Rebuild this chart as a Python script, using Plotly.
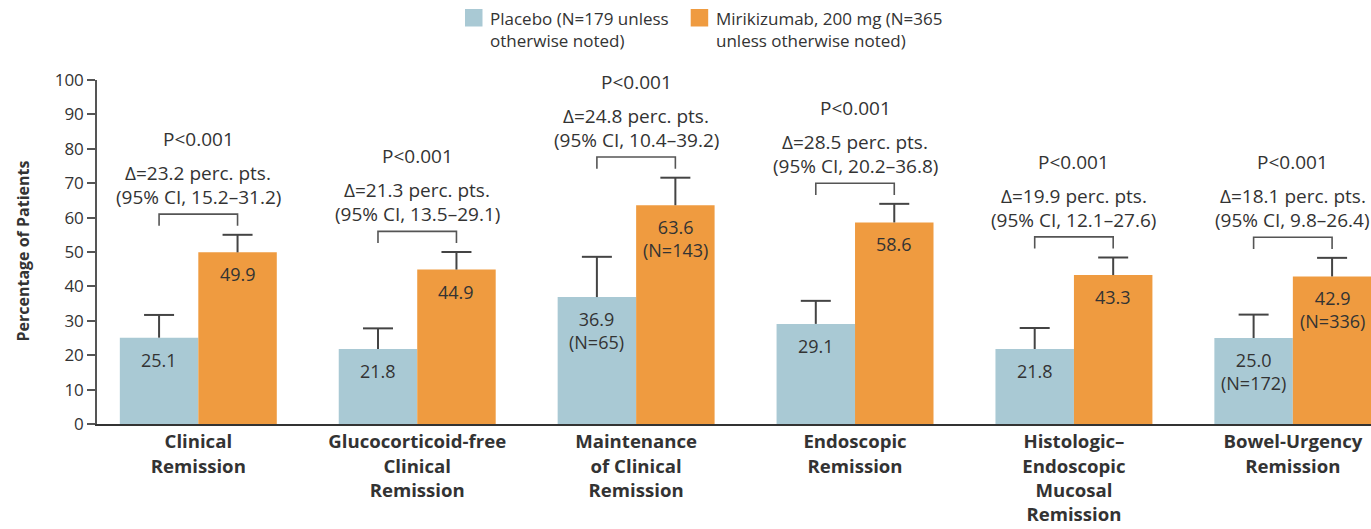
import plotly.graph_objects as go

# ---- data -------------------------------------------------------------
categories = [
    "Clinical<br>Remission",
    "Glucocorticoid-free<br>Clinical<br>Remission",
    "Maintenance<br>of Clinical<br>Remission",
    "Endoscopic<br>Remission",
    "Histologic–<br>Endoscopic<br>Mucosal<br>Remission",
    "Bowel-Urgency<br>Remission",
]
placebo = [25.1, 21.8, 36.9, 29.1, 21.8, 25.0]
mirikizumab = [49.9, 44.9, 63.6, 58.6, 43.3, 42.9]
placebo_upper = [31.7, 27.8, 48.6, 35.8, 27.9, 31.8]
mirikizumab_upper = [55.0, 50.0, 71.6, 64.0, 48.4, 48.3]
placebo_n = [None, None, 65, None, None, 172]
mirikizumab_n = [None, None, 143, None, None, 336]
delta = [23.2, 21.3, 24.8, 28.5, 19.9, 18.1]
ci_low = [15.2, 13.5, 10.4, 20.2, 12.1, 9.8]
ci_high = [31.2, 29.1, 39.2, 36.8, 27.6, 26.4]
p_text = ["P<0.001"] * 6
y_ticks = list(range(0, 101, 10))

# ---- style ------------------------------------------------------------
FONT = "Open Sans"
TXT = "#333333"
C_PLACEBO = "#a9c9d4"
C_MIRI = "#ef9b40"
LINE = "#444444"

PL, PT, PW, PH = 97, 80, 1274, 344          # plot area in px
X_RANGE = [-0.4628, 5.357]
BARGAP = 0.283
bar_w = (1 - BARGAP) / 2
off = bar_w / 2
px_per_x = PW / (X_RANGE[1] - X_RANGE[0])
cap_hw = 15 / px_per_x
bracket_gap = 6.0      # bracket sits above the taller whisker
bracket_leg = 3.4


def xp(px):
    return (px - PL) / PW


def yp(py):
    return (PT + PH - py) / PH


xs = list(range(len(categories)))
fig = go.Figure()

fig.add_trace(go.Bar(x=xs, y=placebo, marker_color=C_PLACEBO, marker_line_width=0,
                     name="Placebo", hoverinfo="y"))
fig.add_trace(go.Bar(x=xs, y=mirikizumab, marker_color=C_MIRI, marker_line_width=0,
                     name="Mirikizumab, 200 mg", hoverinfo="y"))

# upper whiskers with caps
wx, wy = [], []
for i in xs:
    for cx, v, up in ((i - off, placebo[i], placebo_upper[i]),
                      (i + off, mirikizumab[i], mirikizumab_upper[i])):
        wx += [cx, cx, None, cx - cap_hw, cx + cap_hw, None]
        wy += [v, up, None, up, up, None]
fig.add_trace(go.Scatter(x=wx, y=wy, mode="lines", line=dict(color=LINE, width=2),
                         hoverinfo="skip", showlegend=False))

# comparison brackets
bx, by = [], []
brackets = []
for i in xs:
    b = max(placebo_upper[i], mirikizumab_upper[i]) + bracket_gap
    brackets.append(b)
    bx += [i - off, i - off, i + off, i + off, None]
    by += [b - bracket_leg, b, b, b - bracket_leg, None]
fig.add_trace(go.Scatter(x=bx, y=by, mode="lines", line=dict(color="#555555", width=1.6),
                         hoverinfo="skip", showlegend=False))

ann = []
for i in xs:
    b = brackets[i]
    for txt, shift in ((p_text[i], 75),
                       (f"Δ={delta[i]:.1f} perc. pts.", 41),
                       (f"(95% CI, {ci_low[i]:.1f}–{ci_high[i]:.1f})", 17)):
        ann.append(dict(x=i, y=b, xref="x", yref="y", text=txt, showarrow=False,
                        yanchor="middle", yshift=shift,
                        font=dict(family=FONT, size=19, color=TXT)))
    # value labels inside the bars
    for cx, v, n in ((i - off, placebo[i], placebo_n[i]),
                     (i + off, mirikizumab[i], mirikizumab_n[i])):
        lab = f"{v:.1f}" + (f"<br>(N={n})" if n else "")
        ann.append(dict(x=cx, y=v, xref="x", yref="y", text=lab, showarrow=False,
                        yanchor="top", yshift=-8,
                        font=dict(family=FONT, size=18, color=TXT)))

# y-axis title
ann.append(dict(x=xp(22), y=yp(251.5), xref="paper", yref="paper",
                text="<b>Percentage of Patients</b>", textangle=-90, showarrow=False,
                xanchor="center", yanchor="middle",
                font=dict(family=FONT, size=16, color=TXT)))

# legend
shapes = []
legend_items = [
    (C_PLACEBO, 465, "Placebo (N=179 unless<br>otherwise noted)"),
    (C_MIRI, 690.7, "Mirikizumab, 200 mg (N=365<br>unless otherwise noted)"),
]
for col, x0, label in legend_items:
    shapes.append(dict(type="rect", xref="paper", yref="paper",
                       x0=xp(x0), x1=xp(x0 + 17.5), y0=yp(26.5), y1=yp(9),
                       fillcolor=col, line_width=0))
    ann.append(dict(x=xp(x0 + 23), y=yp(29.2), xref="paper", yref="paper",
                    text=label, showarrow=False, xanchor="left", yanchor="middle",
                    align="left", font=dict(family=FONT, size=17, color=TXT)))

tick_text = ["<br>".join(f"<b>{part}</b>" for part in c.split("<br>")) for c in categories]

fig.update_layout(
    width=1371, height=529,
    margin=dict(l=PL, r=1371 - PL - PW, t=PT, b=529 - PT - PH),
    paper_bgcolor="white", plot_bgcolor="white",
    barmode="group", bargap=BARGAP, bargroupgap=0,
    showlegend=False,
    annotations=ann, shapes=shapes,
    font=dict(family=FONT, color=TXT),
    xaxis=dict(range=X_RANGE, tickmode="array", tickvals=xs, ticktext=tick_text,
               tickfont=dict(family=FONT, size=18.6, color=TXT),
               showline=True, linecolor="#333333", linewidth=2, ticks="",
               showgrid=False, zeroline=False, fixedrange=True),
    yaxis=dict(range=[0, 100], tickmode="array", tickvals=y_ticks,
               tickfont=dict(family=FONT, size=17, color=TXT),
               showline=True, linecolor="#555555", linewidth=1.5,
               ticks="outside", ticklen=8, tickwidth=1.5, tickcolor="#555555",
               showgrid=False, zeroline=False, fixedrange=True),
)

fig.write_html("out.html")
